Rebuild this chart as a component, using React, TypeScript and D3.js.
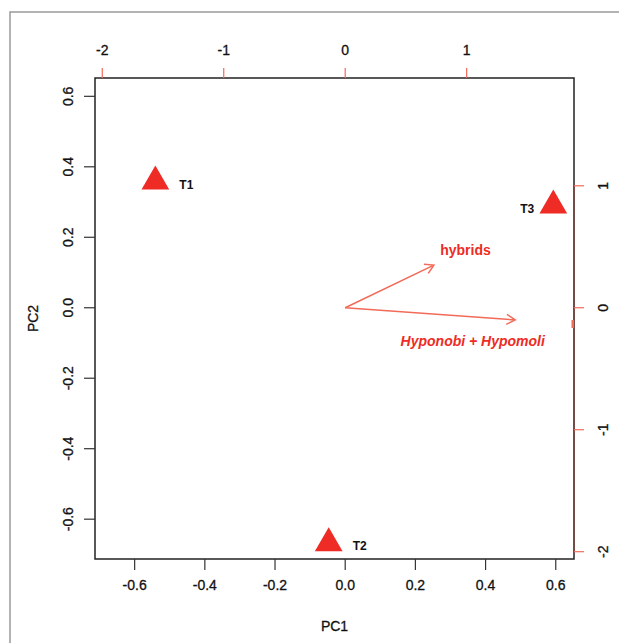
import * as d3 from "d3";

const width = 619;
const height = 643;
const box = { left: 95, right: 574, top: 78, bottom: 559 };

// scores (PC1, PC2)
const scoreLabels = ["T1", "T2", "T3"];
const pc1 = [-0.541, -0.047, 0.593];
const pc2 = [0.358, -0.668, 0.29];
const labelSide = ["right", "right", "left"];

// loadings (secondary axes)
const loadNames = ["hybrids", "Hyponobi + Hypomoli"];
const load1 = [0.73, 1.4];
const load2 = [0.35, -0.1];
const loadLabelX = [0.99, 1.05];
const loadLabelY = [0.475, -0.27];

const primaryTicks = [-0.6, -0.4, -0.2, 0, 0.2, 0.4, 0.6];
const secondaryTicks = [-2, -1, 0, 1];

const lim = [-0.713, 0.652];
const ratio = 2.889;

const red = "#ee2b24";
const arrowRed = "#f26a58";
const font = "'Liberation Sans', Arial, sans-serif";

const x = d3.scaleLinear().domain(lim).range([box.left, box.right]);
const y = d3.scaleLinear().domain(lim).range([box.bottom, box.top]);
const x2 = d3.scaleLinear().domain([lim[0] * ratio, lim[1] * ratio]).range([box.left, box.right]);
const y2 = d3.scaleLinear().domain([lim[0] * ratio, lim[1] * ratio]).range([box.bottom, box.top]);

// R pch 17 style triangle
const triangle = (cx: number, cy: number, r = 16) => {
  const xc = (Math.sqrt(3) / 2) * r;
  const path = d3.path();
  path.moveTo(cx, cy - r);
  path.lineTo(cx + xc, cy + r / 2);
  path.lineTo(cx - xc, cy + r / 2);
  path.closePath();
  return path.toString();
};

const arrow = (x0: number, y0: number, x1: number, y1: number, len = 10) => {
  const a = Math.atan2(y1 - y0, x1 - x0);
  const s = Math.PI / 6;
  const path = d3.path();
  path.moveTo(x0, y0);
  path.lineTo(x1, y1);
  path.moveTo(x1 - len * Math.cos(a - s), y1 - len * Math.sin(a - s));
  path.lineTo(x1, y1);
  path.lineTo(x1 - len * Math.cos(a + s), y1 - len * Math.sin(a + s));
  return path.toString();
};

const fmt = (v: number) => (v === 0 ? "0.0" : d3.format(".1f")(v).replace("−", "-"));

const tickText = { fontSize: 14, fill: "#111", stroke: "#111", strokeWidth: 0.3 };

export default function App() {
  return (
    <svg
      width={width}
      height={height}
      style={{ position: "absolute", left: 0, top: 0, background: "#fff" }}
      fontFamily={font}
    >
      {/* outer frame */}
      <path d={`M10,${height} V12 H${width}`} fill="none" stroke="#9a9a9a" strokeWidth={1.5} />

      {/* plot box */}
      <rect
        x={box.left}
        y={box.top}
        width={box.right - box.left}
        height={box.bottom - box.top}
        fill="none"
        stroke="#222"
        strokeWidth={1.5}
      />

      {/* bottom axis */}
      {primaryTicks.map((t) => (
        <g key={"b" + t}>
          <line x1={x(t)} x2={x(t)} y1={box.bottom} y2={box.bottom + 11} stroke="#333" strokeWidth={1.2} />
          <text x={x(t)} y={590} textAnchor="middle" {...tickText}>
            {fmt(t)}
          </text>
        </g>
      ))}
      <text x={(box.left + box.right) / 2} y={631} textAnchor="middle" {...tickText}>
        PC1
      </text>

      {/* left axis */}
      {primaryTicks.map((t) => (
        <g key={"l" + t}>
          <line x1={box.left} x2={box.left - 11} y1={y(t)} y2={y(t)} stroke="#333" strokeWidth={1.2} />
          <text transform={`translate(73,${y(t)}) rotate(-90)`} textAnchor="middle" {...tickText}>
            {fmt(t)}
          </text>
        </g>
      ))}
      <text
        transform={`translate(38,${(box.top + box.bottom) / 2}) rotate(-90)`}
        textAnchor="middle"
        {...tickText}
      >
        PC2
      </text>

      {/* top axis (loadings) */}
      {secondaryTicks.map((t) => (
        <g key={"t" + t}>
          <line x1={x2(t)} x2={x2(t)} y1={box.top} y2={box.top - 10} stroke={arrowRed} strokeWidth={1.2} />
          <text x={x2(t)} y={55} textAnchor="middle" {...tickText}>
            {t}
          </text>
        </g>
      ))}

      {/* right axis (loadings) */}
      <line
        x1={box.right}
        x2={box.right}
        y1={y2(d3.max(secondaryTicks)!)}
        y2={y2(d3.min(secondaryTicks)!)}
        stroke="#7a4a45"
        strokeWidth={1.6}
      />
      {secondaryTicks.map((t) => (
        <g key={"r" + t}>
          <line x1={box.right} x2={box.right + 10} y1={y2(t)} y2={y2(t)} stroke={arrowRed} strokeWidth={1.2} />
          <text transform={`translate(608,${y2(t)}) rotate(-90)`} textAnchor="middle" {...tickText}>
            {t}
          </text>
        </g>
      ))}
      {/* clipped label fragment on the right edge */}
      <rect x={box.right - 2.5} y={y2(-0.1)} width={2.5} height={8} fill={arrowRed} />

      {/* loading arrows */}
      {loadNames.map((name, i) => (
        <g key={name}>
          <path
            d={arrow(x2(0), y2(0), x2(load1[i]), y2(load2[i]))}
            fill="none"
            stroke={arrowRed}
            strokeWidth={1.5}
          />
          <text
            x={x2(loadLabelX[i])}
            y={y2(loadLabelY[i]) + 5}
            textAnchor="middle"
            fontSize={14}
            fontWeight="bold"
            fontStyle={i === 1 ? "italic" : "normal"}
            fill={red}
          >
            {name}
          </text>
        </g>
      ))}

      {/* scores */}
      {scoreLabels.map((lab, i) => (
        <g key={lab}>
          <path d={triangle(x(pc1[i]), y(pc2[i]))} fill={red} />
          <text
            x={labelSide[i] === "right" ? x(pc1[i]) + 24 : x(pc1[i]) - 19}
            y={y(pc2[i]) + 7}
            textAnchor={labelSide[i] === "right" ? "start" : "end"}
            fontSize={12}
            fontWeight="bold"
            fill="#111"
          >
            {lab}
          </text>
        </g>
      ))}
    </svg>
  );
}
